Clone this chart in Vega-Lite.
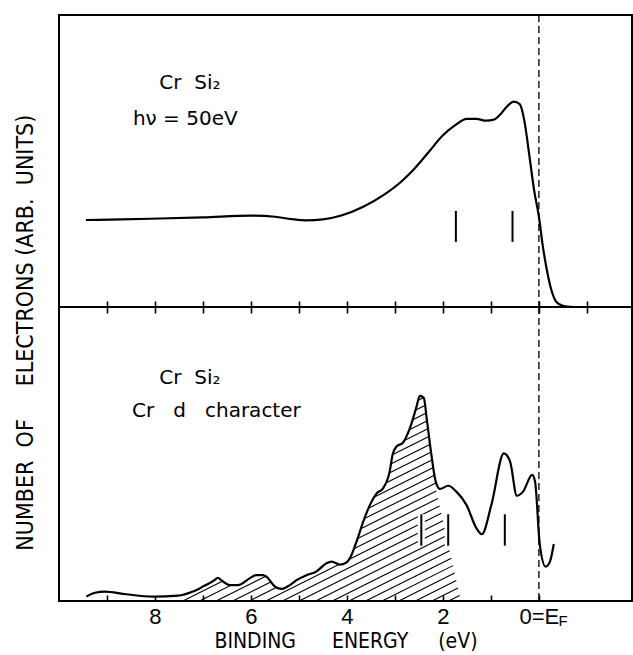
{
  "$schema": "https://vega.github.io/schema/vega-lite/v6.json",
  "background": "white",
  "padding": {"left": 14, "top": 13, "right": 0, "bottom": 0},
  "bounds": "flush",
  "spacing": 0,
  "title": {
    "text": "NUMBER\u00a0\u00a0OF\u00a0\u00a0\u00a0\u00a0\u00a0ELECTRONS\u00a0(ARB.\u00a0\u00a0UNITS)",
    "orient": "left", "anchor": "middle", "font": "DejaVu Sans Condensed, DejaVu Sans",
    "fontSize": 23, "fontWeight": "normal", "offset": 20, "color": "black"
  },
  "config": {
    "view": {"stroke": "black", "strokeWidth": 2},
    "axis": {"zindex": 1, "tickColor": "black", "tickWidth": 1.6, "domain": false, "grid": false},
    "text": {"font": "DejaVu Sans", "fontSize": 20, "color": "black", "align": "left", "baseline": "alphabetic"}
  },
  "datasets": {
    "upper": [
      {"E": 9.44, "v": 29.8}, {"E": 8.7, "v": 30.0}, {"E": 7.9, "v": 30.3}, {"E": 7.0, "v": 30.7},
      {"E": 6.0, "v": 31.3}, {"E": 5.5, "v": 30.9}, {"E": 5.15, "v": 30.1}, {"E": 4.85, "v": 29.7},
      {"E": 4.5, "v": 30.0}, {"E": 4.1, "v": 31.4}, {"E": 3.66, "v": 34.3}, {"E": 3.24, "v": 38.3},
      {"E": 2.83, "v": 43.5}, {"E": 2.57, "v": 47.8}, {"E": 2.3, "v": 53.0}, {"E": 2.0, "v": 58.8},
      {"E": 1.75, "v": 62.2}, {"E": 1.5, "v": 64.4}, {"E": 1.3, "v": 64.4}, {"E": 1.1, "v": 63.8},
      {"E": 0.93, "v": 64.2}, {"E": 0.8, "v": 66.0}, {"E": 0.67, "v": 68.6}, {"E": 0.52, "v": 70.3},
      {"E": 0.4, "v": 69.5}, {"E": 0.3, "v": 63.5}, {"E": 0.2, "v": 52}, {"E": 0.1, "v": 40},
      {"E": 0.0, "v": 31}, {"E": -0.08, "v": 21}, {"E": -0.16, "v": 13.2}, {"E": -0.26, "v": 5.8},
      {"E": -0.36, "v": 1.8}, {"E": -0.5, "v": 0.4}, {"E": -0.72, "v": 0.0}
    ],
    "lower": [
      {"E": 9.43, "v": 1.5}, {"E": 9.25, "v": 2.8}, {"E": 9.05, "v": 3.2}, {"E": 8.6, "v": 2.3},
      {"E": 8.04, "v": 1.5}, {"E": 7.52, "v": 1.8}, {"E": 7.21, "v": 3.2}, {"E": 7.0, "v": 4.9},
      {"E": 6.76, "v": 7.1}, {"E": 6.69, "v": 7.9}, {"E": 6.62, "v": 7.1}, {"E": 6.44, "v": 5.4},
      {"E": 6.27, "v": 5.4}, {"E": 6.03, "v": 7.7}, {"E": 5.89, "v": 8.8}, {"E": 5.75, "v": 8.8},
      {"E": 5.68, "v": 8.3}, {"E": 5.5, "v": 4.9}, {"E": 5.36, "v": 4.1}, {"E": 5.19, "v": 5.4},
      {"E": 5.05, "v": 7.1}, {"E": 4.84, "v": 8.8}, {"E": 4.64, "v": 10.0}, {"E": 4.43, "v": 12.8},
      {"E": 4.32, "v": 13.4}, {"E": 4.15, "v": 12.4}, {"E": 4.01, "v": 13.1}, {"E": 3.94, "v": 14.5},
      {"E": 3.8, "v": 20.2}, {"E": 3.66, "v": 27.0}, {"E": 3.52, "v": 32.7}, {"E": 3.38, "v": 36.6},
      {"E": 3.25, "v": 38.3}, {"E": 3.11, "v": 44.0}, {"E": 3.05, "v": 49.7}, {"E": 2.97, "v": 52.5},
      {"E": 2.83, "v": 53.9}, {"E": 2.69, "v": 58.7}, {"E": 2.56, "v": 65.5}, {"E": 2.48, "v": 69.8},
      {"E": 2.4, "v": 69.1}, {"E": 2.33, "v": 61.0}, {"E": 2.24, "v": 49.7}, {"E": 2.15, "v": 40.6},
      {"E": 2.06, "v": 38.1}, {"E": 1.89, "v": 39.2}, {"E": 1.72, "v": 37.2}, {"E": 1.51, "v": 32.7},
      {"E": 1.3, "v": 24.7}, {"E": 1.19, "v": 22.7}, {"E": 0.99, "v": 32.7}, {"E": 0.73, "v": 50.2},
      {"E": 0.6, "v": 47.4}, {"E": 0.46, "v": 35.8}, {"E": 0.33, "v": 37.2}, {"E": 0.14, "v": 42.9},
      {"E": 0.08, "v": 40.6}, {"E": -0.02, "v": 19.0}, {"E": -0.14, "v": 11.7}, {"E": -0.23, "v": 13.4},
      {"E": -0.31, "v": 19.4}
    ],
    "hatch": [
      {"E": 7.277, "v": 29.39, "E2": 2.064, "v2": 71.9},
      {"E": 7.277, "v": 26.56, "E2": 2.064, "v2": 69.08},
      {"E": 7.277, "v": 23.74, "E2": 2.064, "v2": 66.26},
      {"E": 7.277, "v": 20.92, "E2": 2.064, "v2": 63.44},
      {"E": 7.277, "v": 18.1, "E2": 2.064, "v2": 60.61},
      {"E": 7.277, "v": 15.27, "E2": 2.064, "v2": 57.79},
      {"E": 7.277, "v": 12.45, "E2": 2.064, "v2": 54.97},
      {"E": 7.277, "v": 9.63, "E2": 2.064, "v2": 52.14},
      {"E": 7.277, "v": 6.8, "E2": 2.064, "v2": 49.32},
      {"E": 7.277, "v": 3.98, "E2": 2.064, "v2": 46.5},
      {"E": 7.419, "v": 0, "E2": 2.064, "v2": 43.67},
      {"E": 7.073, "v": 0, "E2": 2.064, "v2": 40.85},
      {"E": 6.726, "v": 0, "E2": 2.137, "v2": 37.43},
      {"E": 6.38, "v": 0, "E2": 2.103, "v2": 34.89},
      {"E": 6.034, "v": 0, "E2": 2.068, "v2": 32.35},
      {"E": 5.688, "v": 0, "E2": 2.033, "v2": 29.81},
      {"E": 5.342, "v": 0, "E2": 1.999, "v2": 27.27},
      {"E": 4.996, "v": 0, "E2": 1.964, "v2": 24.73},
      {"E": 4.65, "v": 0, "E2": 1.929, "v2": 22.19},
      {"E": 4.304, "v": 0, "E2": 1.895, "v2": 19.65},
      {"E": 3.957, "v": 0, "E2": 1.86, "v2": 17.11},
      {"E": 3.611, "v": 0, "E2": 1.825, "v2": 14.57},
      {"E": 3.265, "v": 0, "E2": 1.79, "v2": 12.03},
      {"E": 2.919, "v": 0, "E2": 1.756, "v2": 9.49},
      {"E": 2.573, "v": 0, "E2": 1.721, "v2": 6.95},
      {"E": 2.227, "v": 0, "E2": 1.686, "v2": 4.41},
      {"E": 1.881, "v": 0, "E2": 1.652, "v2": 1.87}
    ],
    "fermi": [{"E": 0}],
    "marksU": [{"E": 1.73, "v": 22.3, "v2": 32.9}, {"E": 0.55, "v": 22.3, "v2": 32.9}],
    "marksL": [{"E": 2.45, "v": 18.8, "v2": 29.5}, {"E": 1.89, "v": 18.8, "v2": 29.5}, {"E": 0.71, "v": 18.8, "v2": 29.5}],
    "textU": [{"E": 7.91, "v": 74.7, "t": "Cr\u00a0\u00a0Si\u2082"}, {"E": 8.46, "v": 62.5, "t": "h\u03bd = 50eV"}],
    "textL": [{"E": 7.91, "v": 73.7, "t": "Cr\u00a0\u00a0Si\u2082"}, {"E": 8.48, "v": 62.7, "t": "Cr\u00a0\u00a0\u00a0d\u00a0\u00a0\u00a0character"}],
    "textSub": [{"E": -0.41, "v": -8.6, "t": "F"}]
  },
  "vconcat": [
    {
      "width": 573, "height": 292,
      "encoding": {
        "x": {"field": "E", "type": "quantitative",
              "scale": {"domain": [-1.94, 10], "reverse": true, "nice": false, "zero": false},
              "axis": {"orient": "bottom", "values": [-1, 0, 1, 2, 3, 4, 5, 6, 7, 8, 9], "labels": false, "tickSize": 12, "offset": -6, "title": null}},
        "y": {"field": "v", "type": "quantitative", "scale": {"domain": [0, 100], "nice": false, "zero": false}, "axis": null}
      },
      "layer": [
        {"data": {"name": "fermi"}, "mark": {"type": "rule", "strokeDash": [7, 4], "strokeWidth": 1.3, "color": "black"}, "encoding": {"y": null}},
        {"data": {"name": "upper"}, "mark": {"type": "line", "interpolate": "monotone", "strokeWidth": 2.2, "color": "black"}},
        {"data": {"name": "marksU"}, "mark": {"type": "rule", "strokeWidth": 2, "color": "black"}, "encoding": {"y2": {"field": "v2"}}},
        {"data": {"name": "textU"}, "mark": {"type": "text"}, "encoding": {"text": {"field": "t"}}}
      ]
    },
    {
      "width": 573, "height": 294,
      "encoding": {
        "x": {"field": "E", "type": "quantitative",
              "scale": {"domain": [-1.94, 10], "reverse": true, "nice": false, "zero": false},
              "axis": {"orient": "bottom", "values": [0, 1, 2, 3, 4, 5, 6, 7, 8, 9], "tickSize": 6, "offset": -6,
                       "labelExpr": "datum.value == 0 ? '0=E' : (datum.value % 2 == 0 ? datum.label : '')",
                       "labelFont": "Liberation Sans", "labelFontSize": 22, "labelColor": "black", "labelPadding": 5,
                       "labelFlush": false, "labelOverlap": false,
                       "title": "BINDING\u00a0\u00a0\u00a0\u00a0\u00a0\u00a0ENERGY\u00a0\u00a0\u00a0\u00a0\u00a0(eV)",
                       "titleFont": "DejaVu Sans Condensed, DejaVu Sans", "titleFontSize": 21,
                       "titleFontWeight": "normal", "titleColor": "black", "titlePadding": 3}},
        "y": {"field": "v", "type": "quantitative", "scale": {"domain": [0, 100], "nice": false, "zero": false}, "axis": null}
      },
      "layer": [
        {"data": {"name": "hatch"}, "mark": {"type": "rule", "strokeWidth": 1.1, "color": "black"}, "encoding": {"x2": {"field": "E2"}, "y2": {"field": "v2"}}},
        {"data": {"name": "lower"}, "mark": {"type": "area", "interpolate": "monotone", "color": "white", "opacity": 1}, "encoding": {"y2": {"datum": 90}}},
        {"data": {"name": "fermi"}, "mark": {"type": "rule", "strokeDash": [7, 4], "strokeWidth": 1.3, "color": "black"}, "encoding": {"y": null}},
        {"data": {"name": "lower"}, "mark": {"type": "line", "interpolate": "monotone", "strokeWidth": 2.2, "color": "black"}},
        {"data": {"name": "marksL"}, "mark": {"type": "rule", "strokeWidth": 7, "color": "white"}, "encoding": {"y2": {"field": "v2"}}},
        {"data": {"name": "marksL"}, "mark": {"type": "rule", "strokeWidth": 2, "color": "black"}, "encoding": {"y2": {"field": "v2"}}},
        {"data": {"name": "textL"}, "mark": {"type": "text"}, "encoding": {"text": {"field": "t"}}},
        {"data": {"name": "textSub"}, "mark": {"type": "text", "font": "Liberation Sans", "fontSize": 15}, "encoding": {"text": {"field": "t"}}}
      ]
    }
  ]
}
